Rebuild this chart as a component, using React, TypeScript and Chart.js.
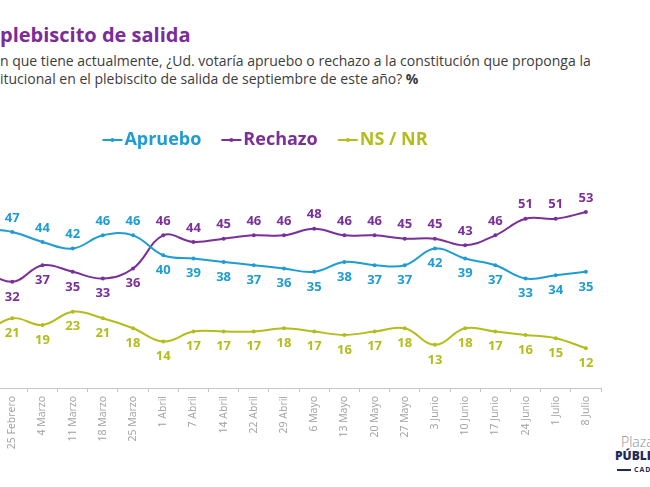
import React, { useEffect, useRef } from "react";
import { Chart, registerables } from "chart.js";

Chart.register(...registerables);

const categories = [
  "18 Febrero", "25 Febrero", "4 Marzo", "11 Marzo", "18 Marzo", "25 Marzo",
  "1 Abril", "7 Abril", "14 Abril", "22 Abril", "29 Abril", "6 Mayo",
  "13 Mayo", "20 Mayo", "27 Mayo", "3 Junio", "10 Junio", "17 Junio",
  "24 Junio", "1 Julio", "8 Julio",
];
const apruebo = [48, 47, 44, 42, 46, 46, 40, 39, 38, 37, 36, 35, 38, 37, 37, 42, 39, 37, 33, 34, 35];
const rechazo = [36, 32, 37, 35, 33, 36, 46, 44, 45, 46, 46, 48, 46, 46, 45, 45, 43, 46, 51, 51, 53];
const nsnr = [16, 21, 19, 23, 21, 18, 14, 17, 17, 17, 18, 17, 16, 17, 18, 13, 18, 17, 16, 15, 12];
const seriesNames = ["Apruebo", "Rechazo", "NS / NR"];
const seriesColors = ["#1E9CD3", "#7A2F99", "#B3BD1C"];

const FONT = "'Open Sans', 'Noto Sans', sans-serif";

const valueLabels = {
  id: "valueLabels",
  afterDatasetsDraw(chart: any) {
    const ctx = chart.ctx;
    ctx.save();
    ctx.font = `700 13px ${FONT}`;
    ctx.textAlign = "center";
    ctx.textBaseline = "middle";
    chart.data.datasets.forEach((ds: any, di: number) => {
      const meta = chart.getDatasetMeta(di);
      meta.data.forEach((pt: any, i: number) => {
        const v = ds.data[i];
        const isTop = chart.data.datasets.every((o: any) => o.data[i] <= v);
        ctx.fillStyle = ds.borderColor;
        ctx.fillText(String(v), pt.x, isTop ? pt.y - 14 : pt.y + 15);
      });
    });
    ctx.restore();
  },
};

// legend marker: a short line with a dot, drawn on a small transparent canvas
function makeMarker(color: string): HTMLCanvasElement {
  const c = document.createElement("canvas");
  c.width = 40;
  c.height = 8;
  const g = c.getContext("2d")!;
  g.strokeStyle = color;
  g.fillStyle = color;
  g.lineWidth = 2;
  g.beginPath();
  g.moveTo(13.5, 4);
  g.lineTo(33.5, 4);
  g.stroke();
  g.beginPath();
  g.arc(23.5, 4, 2, 0, Math.PI * 2);
  g.fill();
  return c;
}

export default function App() {
  const canvasRef = useRef<HTMLCanvasElement | null>(null);

  useEffect(() => {
    const canvas = canvasRef.current;
    if (!canvas) return;
    const seriesData = [apruebo, rechazo, nsnr];
    const markers = seriesColors.map((c) => makeMarker(c));
    const chart = new Chart(canvas, {
      type: "line",
      data: {
        labels: categories,
        datasets: seriesData.map((d, i) => ({
          label: seriesNames[i],
          data: d,
          borderColor: seriesColors[i],
          backgroundColor: seriesColors[i],
          borderWidth: 2,
          tension: 0.4,
          pointRadius: 2,
          pointBorderWidth: 0,
          pointHoverRadius: 2,
          fill: false,
        })),
      },
      options: {
        animation: false,
        responsive: false,
        events: [],
        layout: { padding: { top: 111, left: 0, right: 0, bottom: 0 } },
        plugins: {
          tooltip: { enabled: false },
          title: { display: false },
          legend: {
            display: true,
            position: "top",
            align: "center",
            labels: {
              usePointStyle: true,
              pointStyleWidth: 13,
              padding: 20,
              font: { family: FONT, size: 18, weight: "700" },
              generateLabels: (c: any) =>
                Chart.defaults.plugins.legend.labels
                  .generateLabels(c)
                  .map((l: any) => ({
                    ...l,
                    fontColor: l.strokeStyle,
                    pointStyle: markers[l.datasetIndex],
                  })),
            },
          },
        },
        scales: {
          x: {
            offset: true,
            grid: {
              offset: true,
              drawOnChartArea: false,
              drawTicks: true,
              tickLength: 4,
              color: "#c4c4c4",
            },
            border: { display: true, color: "#c4c4c4", width: 1 },
            ticks: {
              autoSkip: false,
              maxRotation: 90,
              minRotation: 90,
              padding: 4,
              color: "#a0a0a0",
              font: { family: FONT, size: 10.5 },
            },
            afterFit: (s: any) => {
              s.height = 99;
            },
          },
          y: {
            min: 0,
            max: 69,
            ticks: { display: false },
            grid: { display: false },
            border: { display: false },
            afterFit: (s: any) => {
              s.width = 40;
            },
          },
        },
      },
      plugins: [valueLabels],
    });
    return () => chart.destroy();
  }, []);

  return (
    <div
      style={{
        position: "fixed",
        left: 0,
        top: 0,
        width: 650,
        height: 487,
        overflow: "hidden",
        background: "#ffffff",
        fontFamily: FONT,
      }}
    >
      <div
        style={{
          position: "absolute",
          left: 0,
          top: 23,
          whiteSpace: "nowrap",
          fontWeight: 700,
          fontSize: 20,
          lineHeight: "24px",
          color: "#7B2C9B",
        }}
      >
        <span style={{ position: "absolute", right: "100%" }}>Intención de voto&nbsp;</span>
        plebiscito de salida
      </div>
      <div
        style={{
          position: "absolute",
          left: 0,
          top: 52,
          whiteSpace: "nowrap",
          fontSize: 14,
          lineHeight: "18px",
          color: "#3c3c3c",
        }}
      >
        <span style={{ position: "absolute", right: "100%" }}>Si el plebiscito fuera hoy, con la informació</span>
        n que tiene actualmente, ¿Ud. votaría apruebo o rechazo a la constitución que proponga la
      </div>
      <div
        style={{
          position: "absolute",
          left: 0,
          top: 70,
          whiteSpace: "nowrap",
          fontSize: 14,
          lineHeight: "18px",
          color: "#3c3c3c",
        }}
      >
        <span style={{ position: "absolute", right: "100%" }}>Convención Const</span>
        itucional en el plebiscito de salida de septiembre de este año? <b>%</b>
      </div>
      <canvas
        ref={canvasRef}
        width={676}
        height={487}
        style={{ position: "absolute", left: -73, top: 0, width: 676, height: 487 }}
      />
      <div style={{ position: "absolute", left: 621, top: 432, fontSize: 14, color: "#8c909a", fontWeight: 300, whiteSpace: "nowrap" }}>
        Plaza
      </div>
      <div style={{ position: "absolute", left: 615, top: 447, fontSize: 12, color: "#1E2B5C", fontWeight: 800, whiteSpace: "nowrap" }}>
        PÚBLICA
      </div>
      <div style={{ position: "absolute", left: 617, top: 465, fontSize: 7, color: "#1E2B5C", fontWeight: 700, whiteSpace: "nowrap", letterSpacing: 1, display: "flex", alignItems: "center" }}>
        <span style={{ display: "inline-block", width: 14, height: 2, background: "#1E2B5C", marginRight: 3 }} />
        CADEM
      </div>
    </div>
  );
}
